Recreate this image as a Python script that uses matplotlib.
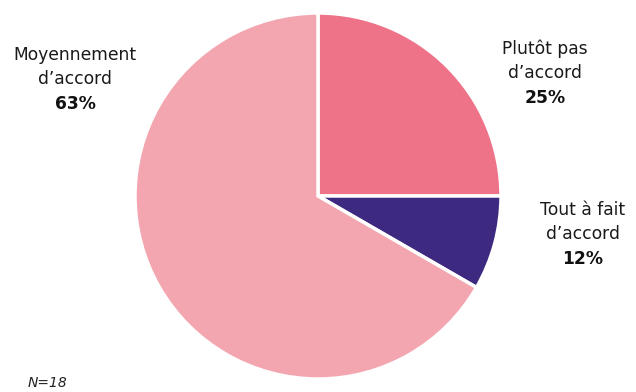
import matplotlib.pyplot as plt

categories = ["Plutôt pas\nd\u2019accord", "Tout à fait\nd\u2019accord", "Moyennement\nd\u2019accord"]
pct_labels = ["25%", "12%", "63%"]
# slice sizes as drawn in the picture
sizes = [25, 8.33, 66.67]
colors = ["#EE7389", "#3D2980", "#F3A6B0"]

W, H = 636, 392
fig = plt.figure(figsize=(6.36, 3.92), dpi=100)
ax = fig.add_axes([0, 0, 1, 1])
ax.pie(sizes, colors=colors, startangle=90, counterclock=False,
       center=(318, H - 196), radius=183,
       wedgeprops=dict(edgecolor="white", linewidth=2.5))
ax.set_xlim(0, W)
ax.set_ylim(0, H)
ax.set_aspect("equal")
ax.axis("off")

# label positions (pixel coords, top-left origin): first line centre
pos = [(545, 49), (583, 210), (75, 55)]
for (x, y), cat, pct in zip(pos, categories, pct_labels):
    l1, l2 = cat.split("\n")
    ax.text(x, H - y, l1, ha="center", va="center", fontsize=12.3, color="#1a1a1a")
    ax.text(x, H - (y + 24), l2, ha="center", va="center", fontsize=12.3, color="#1a1a1a")
    ax.text(x, H - (y + 49), pct, ha="center", va="center", fontsize=12.3,
            color="#111111", fontweight="bold")

ax.text(28, H - 383, "N=18", ha="left", va="center", fontsize=10,
        style="italic", color="#222222")

fig.savefig("out.png", dpi=100)
